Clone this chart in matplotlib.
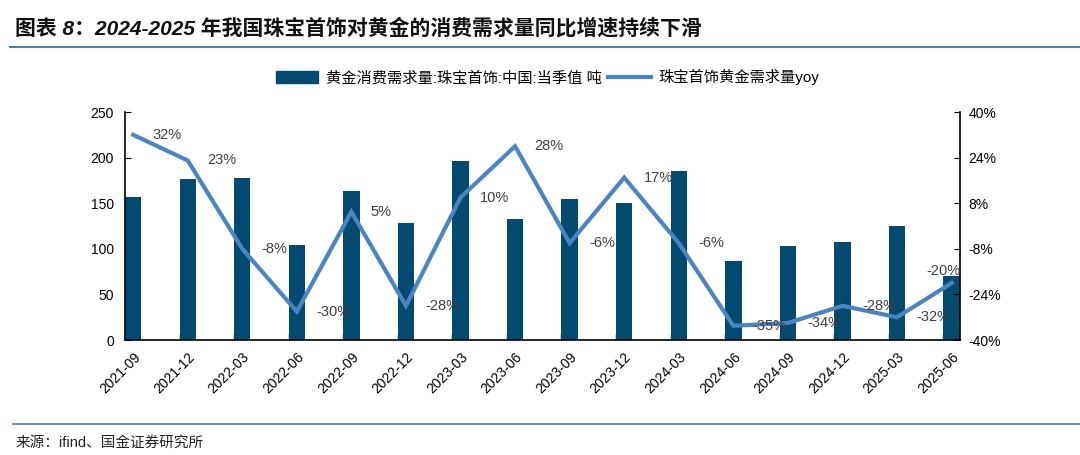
import numpy as np
import matplotlib
matplotlib.use('Agg')
import matplotlib.pyplot as plt
from matplotlib.lines import Line2D
from matplotlib.patches import Patch

plt.rcParams['font.family'] = ['Liberation Sans', 'Noto Sans CJK SC', 'DejaVu Sans']

# 数据
quarters = ['2021-09', '2021-12', '2022-03', '2022-06', '2022-09', '2022-12',
            '2023-03', '2023-06', '2023-09', '2023-12', '2024-03', '2024-06',
            '2024-09', '2024-12', '2025-03', '2025-06']
demand = [157, 177, 178, 104, 163, 128, 196, 133, 155, 150, 185, 87,
          103, 107, 125, 70]
yoy = [32, 23, -8, -30, 5, -28, 10, 28, -6, 17, -6, -35, -34, -28, -32, -20]

bar_label = '黄金消费需求量:珠宝首饰:中国:当季值 吨'
line_label = '珠宝首饰黄金需求量yoy'
title = '图表 8：2024-2025 年我国珠宝首饰对黄金的消费需求量同比增速持续下滑'
source = '来源：ifind、国金证券研究所'

bar_color = '#024a70'
line_color = '#4a85c1'

fig = plt.figure(figsize=(10.8, 4.55), dpi=100)
ax = fig.add_axes([0.1157, 0.2527, 0.7735, 0.5011])
ax2 = ax.twinx()

x = np.arange(len(quarters))
ax.bar(x, demand, width=0.3, color=bar_color, zorder=2)
ax2.plot(x, yoy, color=line_color, lw=3, zorder=3, solid_joinstyle='miter')

ax.set_xlim(-0.15, len(quarters) - 1 + 0.16)
ax.set_ylim(0, 250)
ax.set_yticks(np.arange(0, 251, 50))
ax2.set_ylim(-40, 40)
ax2.set_yticks(np.arange(-40, 41, 16))
ax2.set_yticklabels([f'{v}%' for v in range(-40, 41, 16)])

# 数据标签
for i, v in enumerate(yoy):
    if i == len(yoy) - 1:
        ax2.annotate(f'{v}%', (i, v), xytext=(-6, 9), textcoords='offset points',
                     ha='center', va='center', fontsize=10.5, color='#404040')
    else:
        ax2.annotate(f'{v}%', (i, v), xytext=(14, 0), textcoords='offset points',
                     ha='left', va='center', fontsize=10.5, color='#404040')

# 坐标轴样式
for a in (ax, ax2):
    a.spines['top'].set_visible(False)
    a.spines['left'].set_linewidth(1.2)
    a.spines['right'].set_linewidth(1.2)
    a.spines['bottom'].set_linewidth(1.2)
ax.spines['right'].set_visible(False)
ax2.spines['left'].set_visible(False)
ax2.spines['bottom'].set_visible(False)

ax.tick_params(axis='y', direction='in', length=4, labelsize=10, pad=8)
ax2.tick_params(axis='y', direction='in', length=4, labelsize=10, pad=6)
ax.set_xticks(x)
ax.set_xticklabels(quarters, rotation=45, ha='right', rotation_mode='anchor', fontsize=10)
ax.tick_params(axis='x', which='major', length=0, pad=7)
ax.set_xticks(x[1:] - 0.15, minor=True)
ax.tick_params(axis='x', which='minor', direction='in', length=4, width=1)

# 图例
handles = [Patch(color=bar_color), Line2D([0], [0], color=line_color, lw=3)]
fig.legend(handles, [bar_label, line_label], loc='center', bbox_to_anchor=(0.507, 0.83),
           ncol=2, frameon=False, fontsize=11, handlelength=2.8, handleheight=0.8,
           columnspacing=0.4, handletextpad=0.5)

# 标题和来源
fig.text(0.014, 0.938, title, fontsize=15, fontweight='bold', style='italic',
         ha='left', va='center', color='#111111')
fig.add_artist(Line2D([0.009, 1.0], [0.897, 0.897], color='#4a7fa8', lw=1.5))
fig.add_artist(Line2D([0.012, 1.0], [0.068, 0.068], color='#6a94b4', lw=1.5))
fig.text(0.014, 0.027, source, fontsize=10.5, ha='left', va='center', color='#222222')

fig.savefig('out.png', dpi=100)
